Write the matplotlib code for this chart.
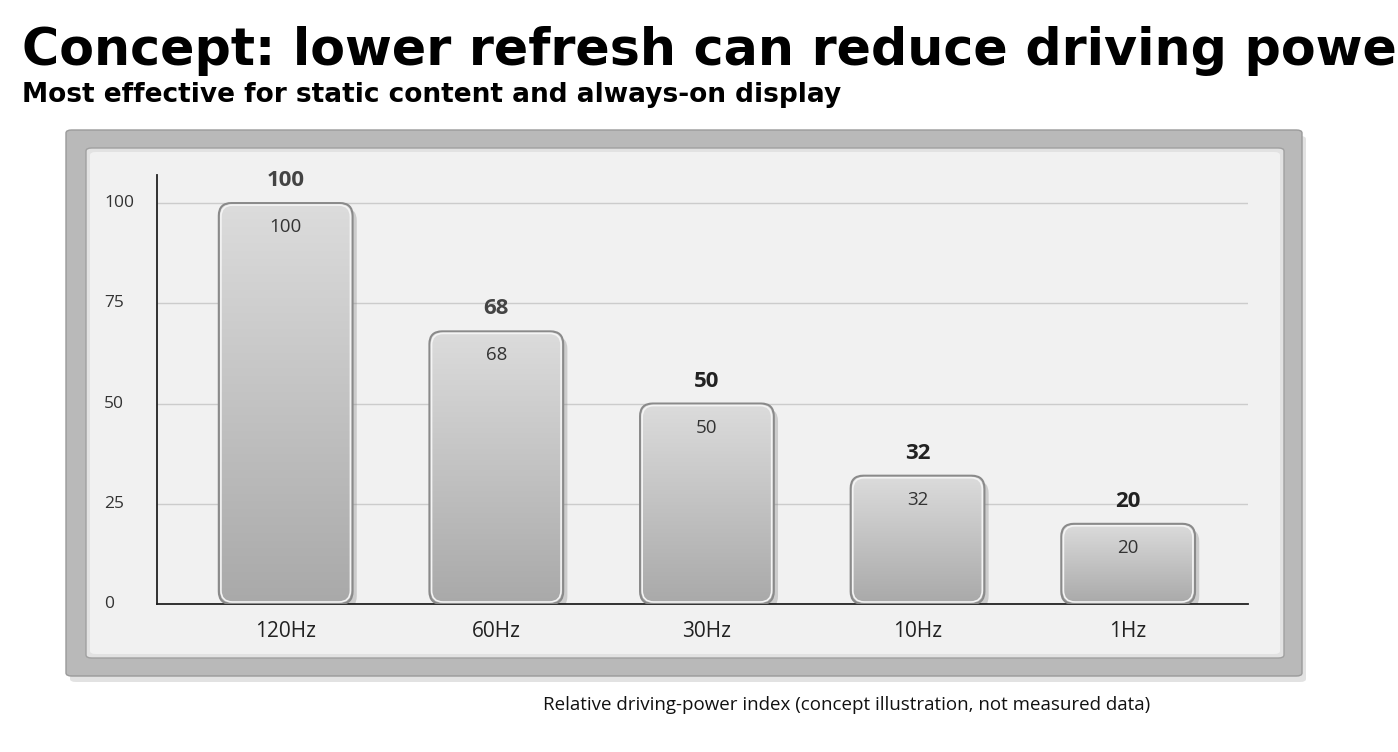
import matplotlib
matplotlib.use("Agg")
import matplotlib.pyplot as plt
import numpy as np
from matplotlib.patches import FancyBboxPatch
from matplotlib.transforms import blended_transform_factory
from matplotlib.colors import LinearSegmentedColormap

categories = ["120Hz", "60Hz", "30Hz", "10Hz", "1Hz"]
values = [100, 68, 50, 32, 20]
yticks = [0, 25, 50, 75, 100]

fig = plt.figure(figsize=(13.98, 7.52), dpi=100)
fig.patch.set_facecolor("white")

W, H = 1398, 752
def fr(x0, y0, x1, y1, **kw):
    r = FancyBboxPatch((x0 / W, 1 - y1 / H), (x1 - x0) / W, (y1 - y0) / H,
                       boxstyle="round,pad=0,rounding_size=0.004", transform=fig.transFigure,
                       zorder=0, **kw)
    fig.add_artist(r)
fr(70, 136, 1306, 682, facecolor="#d0d0d0", edgecolor="none", alpha=0.6)
fr(66, 130, 1302, 676, facecolor="#b9b9b9", edgecolor="#9a9a9a", lw=1)
fr(86, 148, 1284, 658, facecolor="#e2e2e2", edgecolor="#a0a0a0", lw=1)
fr(90, 152, 1280, 654, facecolor="#f1f1f1", edgecolor="none")

ax = fig.add_axes([157 / W, 1 - 604 / H, 1091 / W, 429 / H])
ax.set_zorder(5)
ax.set_facecolor("none")
x = np.arange(len(categories))
for s in ["top", "right"]:
    ax.spines[s].set_visible(False)
for s in ["left", "bottom"]:
    ax.spines[s].set_color("#222222")
    ax.spines[s].set_linewidth(1.3)
ax.set_yticks([])
ax.set_xticks(x)
ax.set_xticklabels(categories, fontsize=15, family="Open Sans", color="#222222")
ax.tick_params(axis="x", length=0, pad=12)
for t in yticks[1:]:
    ax.axhline(t, color="#cccccc", lw=1, zorder=0)
tr = blended_transform_factory(fig.transFigure, ax.transData)
for t in yticks:
    fig.text(104 / W, t, str(t), transform=tr, fontsize=12.5, family="Open Sans",
             color="#333333", va="center", ha="left", zorder=6)

bw = 0.635
aspect = (1 / 4.01) / (1 / 211)
grad = np.linspace(0, 1, 256).reshape(-1, 1)
cmap = LinearSegmentedColormap.from_list("g", ["#a9a9a9", "#dcdcdc"])
for xi, v in zip(x, values):
    shadow = FancyBboxPatch((xi - bw / 2 + 0.02, -1.2), bw, v, boxstyle="round,pad=0,rounding_size=0.06",
                            mutation_aspect=aspect, facecolor="#888888", edgecolor="none", alpha=0.35, zorder=2)
    ax.add_patch(shadow)
    p = FancyBboxPatch((xi - bw / 2, 0), bw, v, boxstyle="round,pad=0,rounding_size=0.06",
                       mutation_aspect=aspect, facecolor="none", edgecolor="#8a8a8a", lw=1.5, zorder=4)
    ax.add_patch(p)
    im = ax.imshow(grad, extent=[xi - bw / 2, xi + bw / 2, 0, v], origin="lower", cmap=cmap,
                   aspect="auto", zorder=3, vmin=0, vmax=1)
    im.set_clip_path(p)
    hl = FancyBboxPatch((xi - bw / 2 + 0.01, 0.5), bw - 0.02, v - 1, boxstyle="round,pad=0,rounding_size=0.055",
                        mutation_aspect=aspect, facecolor="none", edgecolor="#f4f4f4", lw=1.2, zorder=4)
    ax.add_patch(hl)
    ax.text(xi, v + 3, str(v), ha="center", va="bottom", fontsize=16, fontweight="bold",
            family="Open Sans", color="#222222" if v < 60 else "#444444", zorder=5)
    ax.text(xi, v - 6, str(v), ha="center", va="center", fontsize=13.5,
            family="Open Sans", color="#333333", zorder=5)
ax.set_xlim(-0.611, 4.569)
ax.set_ylim(0, 107)

fig.text(22 / W, 1 - 65 / H, "Concept: lower refresh can reduce driving power", fontsize=36.5,
         fontweight="bold", family="DejaVu Sans", ha="left", va="baseline")
fig.text(22 / W, 1 - 102 / H, "Most effective for static content and always-on display", fontsize=19,
         fontweight="bold", family="DejaVu Sans", ha="left", va="baseline")
fig.text(847 / W, 1 - 705 / H, "Relative driving-power index (concept illustration, not measured data)",
         fontsize=13.5, family="Open Sans", ha="center", va="center", color="#111111")

fig.savefig("out.png", dpi=100)
